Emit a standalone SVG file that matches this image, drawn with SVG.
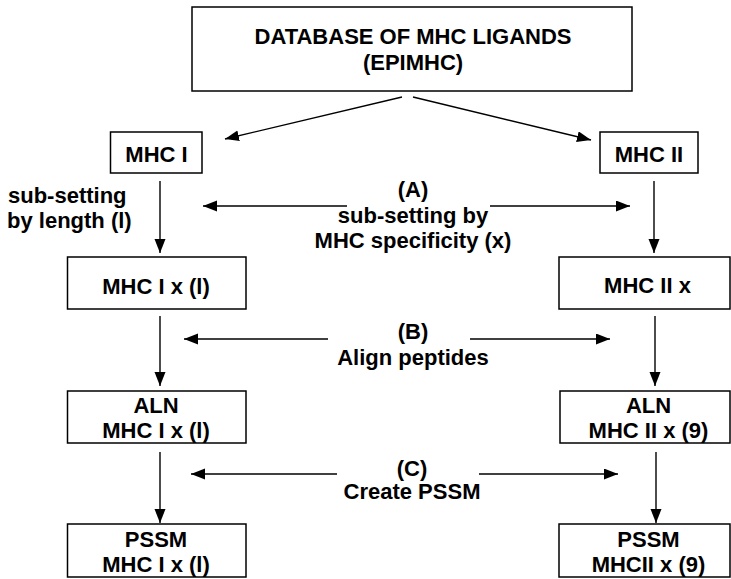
<svg xmlns="http://www.w3.org/2000/svg" width="731" height="579" viewBox="0 0 731 579">
<style>
  .box { fill: #fff; stroke: #000; stroke-width: 1.5; }
  .t { font-family: "Liberation Sans", Arial, sans-serif; font-weight: bold; font-size: 22px; fill: #000; }
  .c { text-anchor: middle; }
  .ln { stroke: #000; stroke-width: 1.4; fill: none; }
</style>
<defs>
  <marker id="ah" markerUnits="userSpaceOnUse" markerWidth="15" markerHeight="12" refX="14" refY="5.5" orient="auto">
    <path d="M0,0 L14,5.5 L0,11 z" fill="#000"/>
  </marker>
</defs>
<rect width="731" height="579" fill="#fff"/>

<g id="db">
  <rect class="box" x="192" y="7" width="440" height="84"/>
  <text class="t c" x="413" y="44">DATABASE OF MHC LIGANDS</text>
  <text class="t c" x="413" y="70">(EPIMHC)</text>
</g>
<g id="mhc1">
  <rect class="box" x="110.5" y="132" width="91.5" height="41"/>
  <text class="t c" x="156.5" y="161.5">MHC I</text>
</g>
<g id="mhc2">
  <rect class="box" x="600" y="132" width="98" height="41"/>
  <text class="t c" x="649" y="161.5">MHC II</text>
</g>
<g id="mhc1x">
  <rect class="box" x="67.5" y="257" width="178.5" height="52"/>
  <text class="t c" x="156" y="294">MHC I x (l)</text>
</g>
<g id="mhc2x">
  <rect class="box" x="559" y="257" width="171" height="52"/>
  <text class="t c" x="647.5" y="293">MHC II x</text>
</g>
<g id="aln1">
  <rect class="box" x="67.5" y="391" width="178.5" height="52"/>
  <text class="t c" x="156" y="412.5">ALN</text>
  <text class="t c" x="156" y="438">MHC I x (l)</text>
</g>
<g id="aln2">
  <rect class="box" x="560" y="391" width="170" height="52"/>
  <text class="t c" x="648.5" y="412.5">ALN</text>
  <text class="t c" x="648.5" y="438">MHC II x (9)</text>
</g>
<g id="pssm1">
  <rect class="box" x="67.5" y="524" width="178.5" height="53"/>
  <text class="t c" x="156" y="547">PSSM</text>
  <text class="t c" x="156" y="572">MHC I x (l)</text>
</g>
<g id="pssm2">
  <rect class="box" x="559" y="524" width="171" height="53"/>
  <text class="t c" x="648.5" y="547">PSSM</text>
  <text class="t c" x="648.5" y="572">MHCII x (9)</text>
</g>

<g id="labels">
  <text class="t" x="8" y="203">sub-setting</text>
  <text class="t" x="7" y="228">by length (l)</text>
  <text class="t c" x="413" y="197">(A)</text>
  <text class="t c" x="413" y="223">sub-setting by</text>
  <text class="t c" x="413" y="248">MHC specificity (x)</text>
  <text class="t c" x="413" y="339">(B)</text>
  <text class="t c" x="413" y="365">Align peptides</text>
  <text class="t c" x="412" y="476">(C)</text>
  <text class="t c" x="412" y="499">Create PSSM</text>
</g>

<g id="connectors">
  <line class="ln" x1="402" y1="97" x2="225" y2="139" marker-end="url(#ah)"/>
  <line class="ln" x1="413" y1="97" x2="591" y2="140" marker-end="url(#ah)"/>
  <line class="ln" x1="160" y1="181" x2="160" y2="253" marker-end="url(#ah)"/>
  <line class="ln" x1="654" y1="181" x2="654" y2="253" marker-end="url(#ah)"/>
  <line class="ln" x1="160" y1="316" x2="160" y2="386" marker-end="url(#ah)"/>
  <line class="ln" x1="655" y1="316" x2="655" y2="386" marker-end="url(#ah)"/>
  <line class="ln" x1="160" y1="452" x2="160" y2="523" marker-end="url(#ah)"/>
  <line class="ln" x1="656" y1="452" x2="656" y2="523" marker-end="url(#ah)"/>
  <line class="ln" x1="347" y1="206" x2="203" y2="206" marker-end="url(#ah)"/>
  <line class="ln" x1="490" y1="206" x2="630" y2="206" marker-end="url(#ah)"/>
  <line class="ln" x1="328" y1="339" x2="184" y2="339" marker-end="url(#ah)"/>
  <line class="ln" x1="470" y1="339" x2="610" y2="339" marker-end="url(#ah)"/>
  <line class="ln" x1="337" y1="474" x2="191" y2="474" marker-end="url(#ah)"/>
  <line class="ln" x1="479" y1="474" x2="618" y2="474" marker-end="url(#ah)"/>
</g>
</svg>
